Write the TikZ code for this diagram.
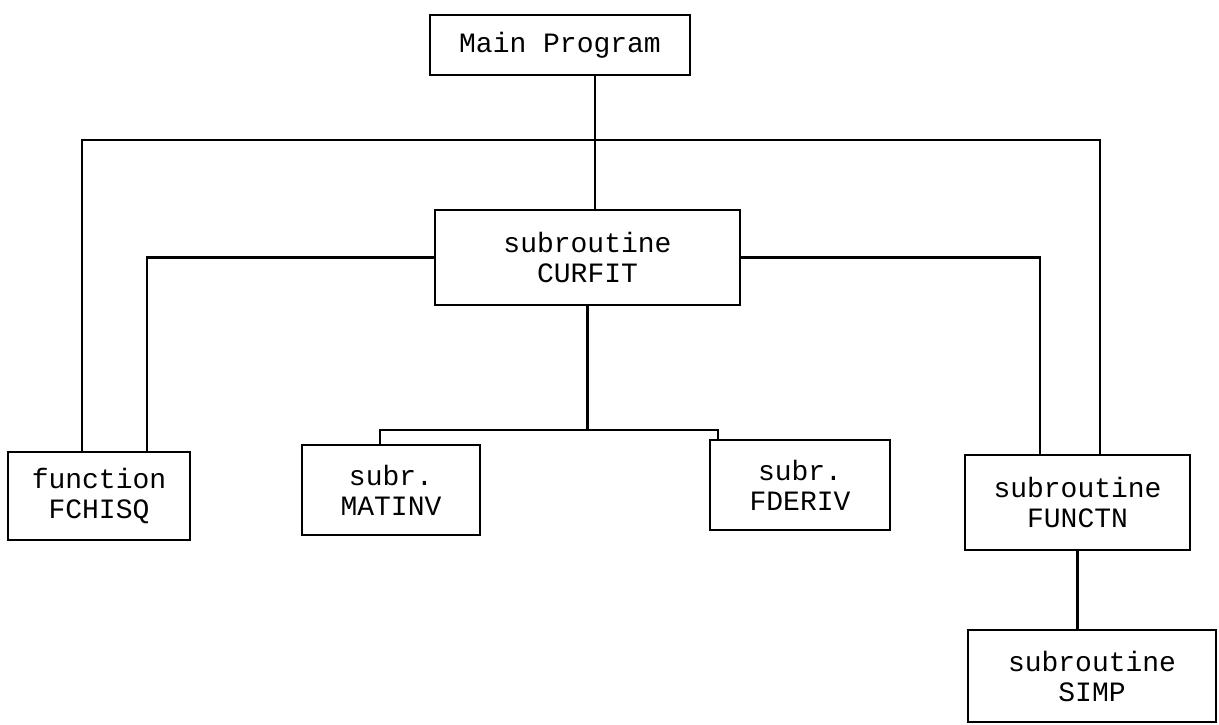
\documentclass[tikz,border=0pt]{standalone}
\usepackage{fontspec}
\setmonofont{Liberation Mono}
\begin{document}
\begin{tikzpicture}[x=0.5pt,y=-0.5pt,line width=1.1pt,
        box/.style={shape=rectangle,draw=black,inner sep=0pt,align=center,
            font=\ttfamily\fontsize{14}{15}\selectfont}]
        \useasboundingbox (0,0) rectangle (1219,724);

        \node[box,minimum width=130pt,minimum height=30pt] (main) at (560,45) {Main Program};
        \node[box,minimum width=152.5pt,minimum height=47.5pt] (curfit) at (587.5,257.5) {subroutine\\CURFIT};
        \node[box,minimum width=91pt,minimum height=44pt] (fchisq) at (99,496) {function\\FCHISQ};
        \node[box,minimum width=89pt,minimum height=45pt] (matinv) at (391,490) {subr.\\MATINV};
        \node[box,minimum width=90pt,minimum height=45pt] (fderiv) at (800,485) {subr.\\FDERIV};
        \node[box,minimum width=112.5pt,minimum height=47.5pt] (functn) at (1077.5,502.5) {subroutine\\FUNCTN};
        \node[box,minimum width=124pt,minimum height=46pt] (simp) at (1092,676) {subroutine\\SIMP};

        \coordinate (bus) at (595,140);
        \coordinate (split) at (587.5,430);

        \path [draw] ([xshift=17.5pt]main.south) -- ([xshift=17.5pt]main.south |- curfit.north);
        \path [draw] ([xshift=-8.5pt]fchisq.north) |- (bus) -| ([xshift=11.25pt]functn.north);

        \path [draw] (curfit.west) -| ([xshift=24pt]fchisq.north);
        \path [draw] (curfit.east) -| ([xshift=-18.75pt]functn.north);

        \path [draw] (curfit.south) -- (split);
        \path [draw] ([xshift=-5.5pt]matinv.north) |- (split) -| ([xshift=-41pt]fderiv.north);

        \path [draw] (functn.south) -- (functn.south |- simp.north);
    \end{tikzpicture}
\end{document}
